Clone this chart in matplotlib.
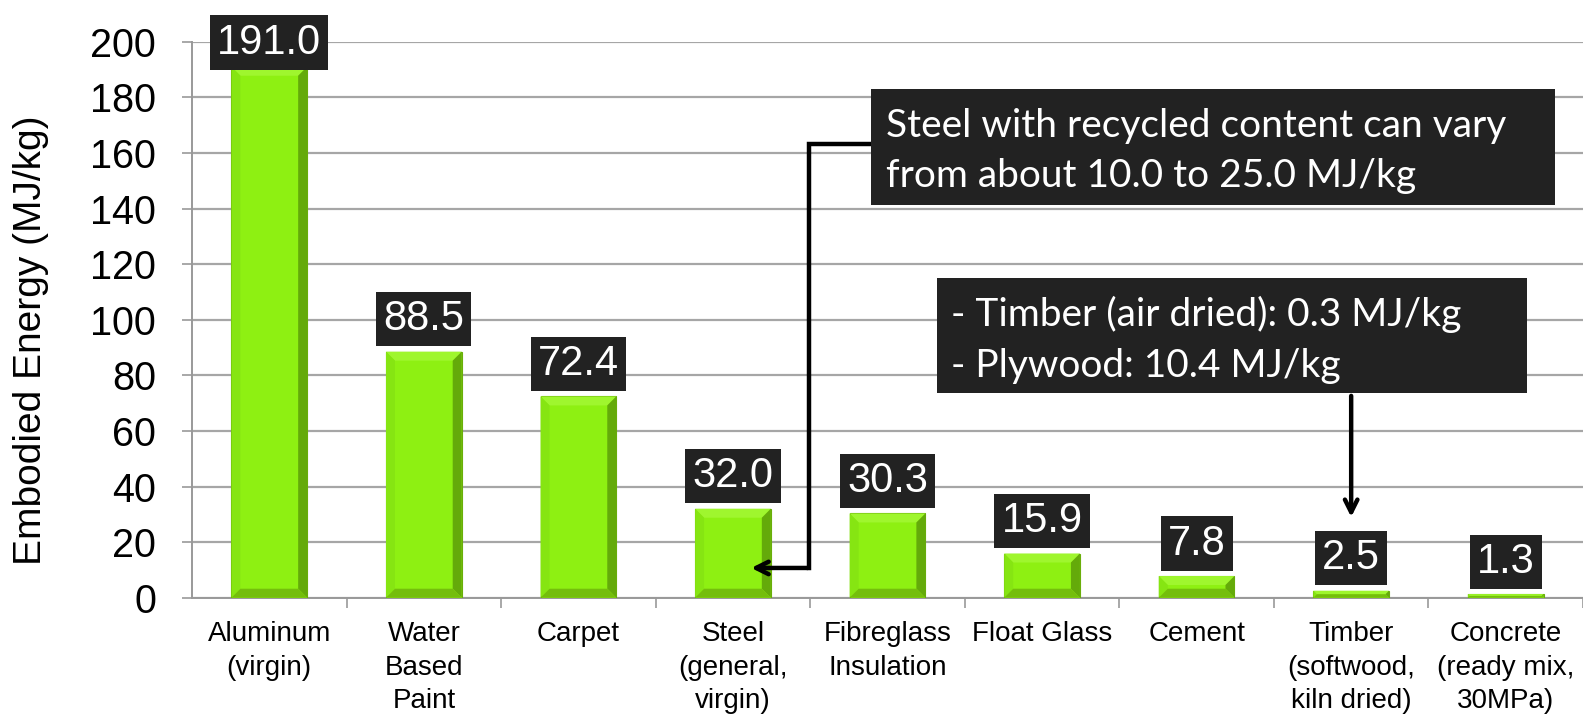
import matplotlib.pyplot as plt
from matplotlib.patches import Polygon, Rectangle

# Chart data
categories = [
    "Aluminum\n(virgin)",
    "Water\nBased\nPaint",
    "Carpet",
    "Steel\n(general,\nvirgin)",
    "Fibreglass\nInsulation",
    "Float Glass",
    "Cement",
    "Timber\n(softwood,\nkiln dried)",
    "Concrete\n(ready mix,\n30MPa)",
]
energy = [191.0, 88.5, 72.4, 32.0, 30.3, 15.9, 7.8, 2.5, 1.3]
y_ticks = [0, 20, 40, 60, 80, 100, 120, 140, 160, 180, 200]

steel_note = "Steel with recycled content can vary\nfrom about 10.0 to 25.0 MJ/kg"
timber_note = "- Timber (air dried): 0.3 MJ/kg\n- Plywood: 10.4 MJ/kg"

plt.rcParams["font.family"] = ["Liberation Sans", "DejaVu Sans"]

fig = plt.figure(figsize=(15.83, 7.19), dpi=100)
ax = fig.add_axes([0.1213, 0.1687, 0.8787, 0.7733])

x = list(range(len(categories)))
bars = ax.bar(x, energy, width=0.49, color="#8EF012", edgecolor="#6AAE0A",
              linewidth=0.8, zorder=3)

ax.set_xlim(-0.5, len(categories) - 0.5)
ax.set_ylim(0, 200)
ax.set_yticks(y_ticks)
ax.set_xticks(x)
ax.set_xticklabels(categories, fontsize=20, linespacing=1.36)
ax.set_xticks([i + 0.5 for i in x], minor=True)
ax.tick_params(axis="x", which="major", length=0, pad=17)
ax.tick_params(axis="x", which="minor", length=7, width=1.2, color="#999999")
ax.tick_params(axis="y", labelsize=28.5, length=7, width=1.2, color="#999999", pad=19)

ax.grid(axis="y", color="#A6A6A6", linewidth=1.6, zorder=0)
for side in ["top", "right"]:
    ax.spines[side].set_visible(False)
ax.spines["left"].set_color("#999999")
ax.spines["bottom"].set_color("#999999")
ax.spines["left"].set_linewidth(1.4)
ax.spines["bottom"].set_linewidth(1.4)

ax.set_ylabel("Embodied Energy (MJ/kg)", fontsize=28, va="center")
ax.yaxis.set_label_coords(-0.116, 0.4635)

# Bevel effect on each bar
fig.canvas.draw()
to_data = ax.transData.inverted()
for bar in bars:
    x0, y0 = ax.transData.transform((bar.get_x(), 0))
    x1, y1 = ax.transData.transform((bar.get_x() + bar.get_width(), bar.get_height()))
    b = min(9, (y1 - y0) / 2, (x1 - x0) / 2)
    outer = [(x0, y0), (x1, y0), (x1, y1), (x0, y1)]
    inner = [(x0 + b, y0 + b), (x1 - b, y0 + b), (x1 - b, y1 - b), (x0 + b, y1 - b)]
    sides = [
        ([outer[3], outer[2], inner[2], inner[3]], "#9FF62E"),  # top
        ([outer[0], outer[3], inner[3], inner[0]], "#86E512"),  # left
        ([outer[1], outer[2], inner[2], inner[1]], "#64AA0A"),  # right
        ([outer[0], outer[1], inner[1], inner[0]], "#74BE0C"),  # bottom
    ]
    for pts, col in sides:
        poly = Polygon(to_data.transform(pts), closed=True, facecolor=col,
                       edgecolor="none", zorder=4)
        ax.add_patch(poly)

# Value labels in dark boxes
top = max(energy)
for xi, val in zip(x, energy):
    offset = 3 if val == top else 9
    ax.annotate(f"{val:.1f}", (xi, val), xytext=(0, offset), textcoords="offset points",
                ha="center", va="bottom", fontsize=30, color="white", zorder=6,
                annotation_clip=False,
                bbox=dict(boxstyle="square,pad=0.17", facecolor="#222222", edgecolor="none"))

note_font = ["Lato", "DejaVu Sans"]

# Steel note box and elbow connector
ax.add_patch(Rectangle((3.892, 141.2), 8.316 - 3.892, 183.0 - 141.2, facecolor="#222222",
                       edgecolor="none", zorder=6, clip_on=False))
ax.text(3.99, 160.6, steel_note, ha="left", va="center", fontsize=28, color="white",
        family=note_font, linespacing=1.48, zorder=7)
ax.plot([3.892, 3.491, 3.491], [163.2, 163.2, 10.7], color="black", linewidth=3.2,
        zorder=5, solid_joinstyle="miter")
ax.annotate("", xy=(3.10, 10.7), xytext=(3.50, 10.7),
            arrowprops=dict(arrowstyle="->,head_length=0.9,head_width=0.45",
                            color="black", lw=3.2), zorder=5)

# Timber note box and arrow
ax.add_patch(Rectangle((4.319, 73.6), 8.135 - 4.319, 115.0 - 73.6, facecolor="#222222",
                       edgecolor="none", zorder=6, clip_on=False))
ax.text(4.41, 92.8, timber_note, ha="left", va="center", fontsize=28, color="white",
        family=note_font, linespacing=1.5, zorder=7)
ax.annotate("", xy=(7.0, 28.0), xytext=(7.0, 73.6),
            arrowprops=dict(arrowstyle="->,head_length=0.9,head_width=0.45",
                            color="black", lw=3.2), zorder=5)

fig.savefig("out.png", dpi=100)
